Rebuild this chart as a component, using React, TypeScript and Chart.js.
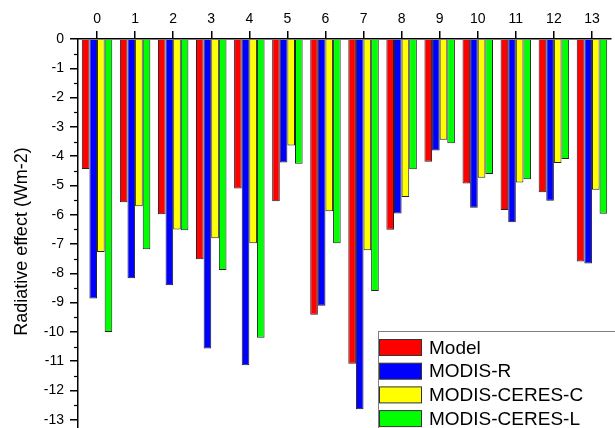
import { useEffect, useRef } from "react";
import { Chart, registerables } from "chart.js";

Chart.register(...registerables);

// Region indices along the top axis
const regions = ["0", "1", "2", "3", "4", "5", "6", "7", "8", "9", "10", "11", "12", "13"];

// Radiative effect per region (Wm-2)
const model = [-4.44, -5.57, -5.98, -7.52, -5.1, -5.54, -9.41, -11.09, -6.51, -4.19, -4.93, -5.84, -5.23, -7.6];
const modisR = [-8.86, -8.17, -8.41, -10.57, -11.14, -4.22, -9.11, -12.64, -5.96, -3.81, -5.76, -6.26, -5.52, -7.66];
const modisCeresC = [-7.27, -5.71, -6.5, -6.8, -6.97, -3.64, -5.88, -7.21, -5.39, -3.44, -4.74, -4.9, -4.23, -5.15];
const modisCeresL = [-10.0, -7.18, -6.53, -7.89, -10.2, -4.26, -6.97, -8.6, -4.45, -3.56, -4.61, -4.79, -4.1, -5.97];

const seriesNames = ["Model", "MODIS-R", "MODIS-CERES-C", "MODIS-CERES-L"];
const seriesColors = ["#ff0000", "#0000ff", "#ffff00", "#00ff00"];

const yTitle = "Radiative effect (Wm-2)";
const FONT = "'Liberation Sans', Arial, sans-serif";

// Minor ticks on the value axis, the rotated axis title and the boxed legend
const extrasPlugin = {
  id: "extras",
  afterDraw(chart: any) {
    const { ctx, chartArea, scales } = chart;
    const y = scales.y;
    ctx.save();

    // minor ticks at the half steps
    ctx.strokeStyle = "#000";
    ctx.lineWidth = 1.2;
    for (let v = -0.5; v >= y.min; v -= 1) {
      const py = Math.round(y.getPixelForValue(v)) + 0.5;
      ctx.beginPath();
      ctx.moveTo(chartArea.left - 4, py);
      ctx.lineTo(chartArea.left, py);
      ctx.stroke();
    }

    // axis title
    ctx.fillStyle = "#000";
    ctx.font = `18px ${FONT}`;
    ctx.textAlign = "center";
    ctx.textBaseline = "middle";
    ctx.translate(22, 241.5);
    ctx.rotate(-Math.PI / 2);
    ctx.fillText(yTitle, 0, 0);
    ctx.setTransform(1, 0, 0, 1, 0, 0);

    // legend box
    const bx = 378.5;
    const by = 331.5;
    ctx.fillStyle = "#fff";
    ctx.fillRect(bx, by, chart.width - bx + 2, chart.height - by + 2);
    ctx.strokeStyle = "#808080";
    ctx.lineWidth = 1;
    ctx.strokeRect(bx, by, chart.width - bx + 10, chart.height - by + 10);

    ctx.font = `19px ${FONT}`;
    ctx.textAlign = "left";
    chart.data.datasets.forEach((ds: any, i: number) => {
      const sy = 339.5 + i * 23.7;
      ctx.fillStyle = ds.backgroundColor;
      ctx.fillRect(379.5, sy, 42, 16);
      ctx.strokeStyle = "#333";
      ctx.strokeRect(379.5, sy, 42, 16);
      ctx.fillStyle = "#000";
      ctx.fillText(ds.label, 429, sy + 9);
    });
    ctx.restore();
  },
};

export default function App() {
  const canvasRef = useRef<HTMLCanvasElement>(null);

  useEffect(() => {
    Chart.defaults.font.family = FONT;
    const values = [model, modisR, modisCeresC, modisCeresL];
    const chart = new Chart(canvasRef.current!, {
      type: "bar",
      data: {
        labels: regions,
        datasets: values.map((data, i) => ({
          label: seriesNames[i],
          data,
          backgroundColor: seriesColors[i],
          borderColor: "#222",
          borderWidth: 1,
          categoryPercentage: 0.8,
          barPercentage: 1,
        })),
      },
      options: {
        responsive: false,
        animation: false,
        layout: { padding: { left: 0, right: 4, top: 0, bottom: 0 } },
        plugins: {
          legend: { display: false },
          tooltip: { enabled: false },
        },
        scales: {
          x: {
            type: "category",
            position: "top",
            offset: true,
            grid: {
              offset: false,
              drawOnChartArea: false,
              drawTicks: true,
              tickLength: 8,
              color: "#000",
              lineWidth: 1.5,
            },
            border: { display: true, color: "#000", width: 1.5 },
            ticks: {
              color: "#000",
              font: { size: 14 },
              padding: 3,
              maxRotation: 0,
              autoSkip: false,
            },
            afterFit: (s: any) => {
              s.height = 39;
              s.paddingLeft = 0;
              s.paddingRight = 0;
            },
          },
          y: {
            min: -13.28,
            max: 0,
            ticks: {
              stepSize: 1,
              includeBounds: false,
              color: "#000",
              font: { size: 14 },
              padding: 6,
            },
            grid: {
              drawOnChartArea: false,
              drawTicks: true,
              tickLength: 8,
              color: "#000",
              lineWidth: 1.5,
            },
            border: { display: true, color: "#000", width: 1.5 },
            afterFit: (s: any) => {
              s.width = 78;
              s.paddingTop = 0;
              s.paddingBottom = 0;
            },
          },
        },
      },
      plugins: [extrasPlugin],
    });
    return () => chart.destroy();
  }, []);

  return (
    <div style={{ position: "absolute", left: 0, top: 0, width: 615, height: 428, background: "#fff" }}>
      <canvas ref={canvasRef} width={615} height={428} style={{ display: "block" }} />
    </div>
  );
}
